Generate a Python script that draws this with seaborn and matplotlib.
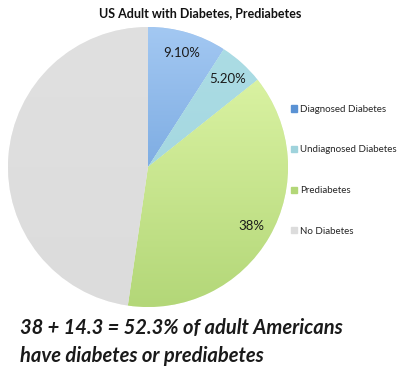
#!/usr/bin/env python3

import numpy as np
import seaborn as sns
import matplotlib.pyplot as plt
from matplotlib.colors import LinearSegmentedColormap

categories = ['Diagnosed Diabetes', 'Undiagnosed Diabetes', 'Prediabetes', 'No Diabetes']
values = [9.1, 5.2, 38.0, 47.7]
value_labels = ['9.10%', '5.20%', '38%', '']
title = 'US Adult with Diabetes, Prediabetes'
note = '38 + 14.3 = 52.3% of adult Americans\nhave diabetes or prediabetes'

# (top colour, bottom colour) per slice
shades = [
    ('#a3c8f2', '#5a92d4'),
    ('#acdde5', '#9fd3dc'),
    ('#e2f8ab', '#b3d778'),
    ('#e0e0e0', '#dcdcdc'),
]

sns.set_theme(style='white')
plt.rcParams['font.family'] = ['Lato', 'DejaVu Sans']

fig = plt.figure(figsize=(4, 3.77), dpi=100)
ax = fig.add_axes([0.02, 0.1857, 0.7, 0.7427])

wedges, texts = ax.pie(
        values,
        labels=value_labels,
        labeldistance=0.85,
        startangle=90,
        counterclock=False,
        colors=[s[1] for s in shades],
        wedgeprops=dict(edgecolor='white', linewidth=0.4),
        textprops=dict(fontsize=9.5, color='#1a1a1a', ha='center', va='center'),
)

grad = np.linspace(0, 1, 256).reshape(-1, 1)
for w, (top, bottom) in zip(wedges, shades):
    cmap = LinearSegmentedColormap.from_list('g', [top, bottom])
    im = ax.imshow(grad, extent=[-1, 1, -1, 1], cmap=cmap, aspect='auto', zorder=w.get_zorder() + 0.1)
    im.set_clip_path(w)
for t in texts:
    t.set_zorder(5)

ax.set_xlim(-1, 1)
ax.set_ylim(-1, 1)
ax.set_aspect('equal')
ax.axis('off')

leg = fig.legend(
        [plt.Rectangle((0, 0), 1, 1, color=s[1]) for s in shades],
        categories,
        loc='upper left',
        bbox_to_anchor=(0.705, 0.745),
        frameon=False,
        fontsize=7,
        handlelength=0.6,
        handleheight=0.6,
        handletextpad=0.4,
        labelspacing=3.25,
)

fig.text(0.5, 0.965, title, ha='center', va='center', fontsize=9, fontweight='bold', color='#111111')
fig.text(0.05, 0.03, note, ha='left', va='bottom', fontsize=14.5, fontweight='bold',
         fontstyle='italic', color='#1a1a1a', linespacing=1.45)

plt.savefig('out.png', dpi=100)
